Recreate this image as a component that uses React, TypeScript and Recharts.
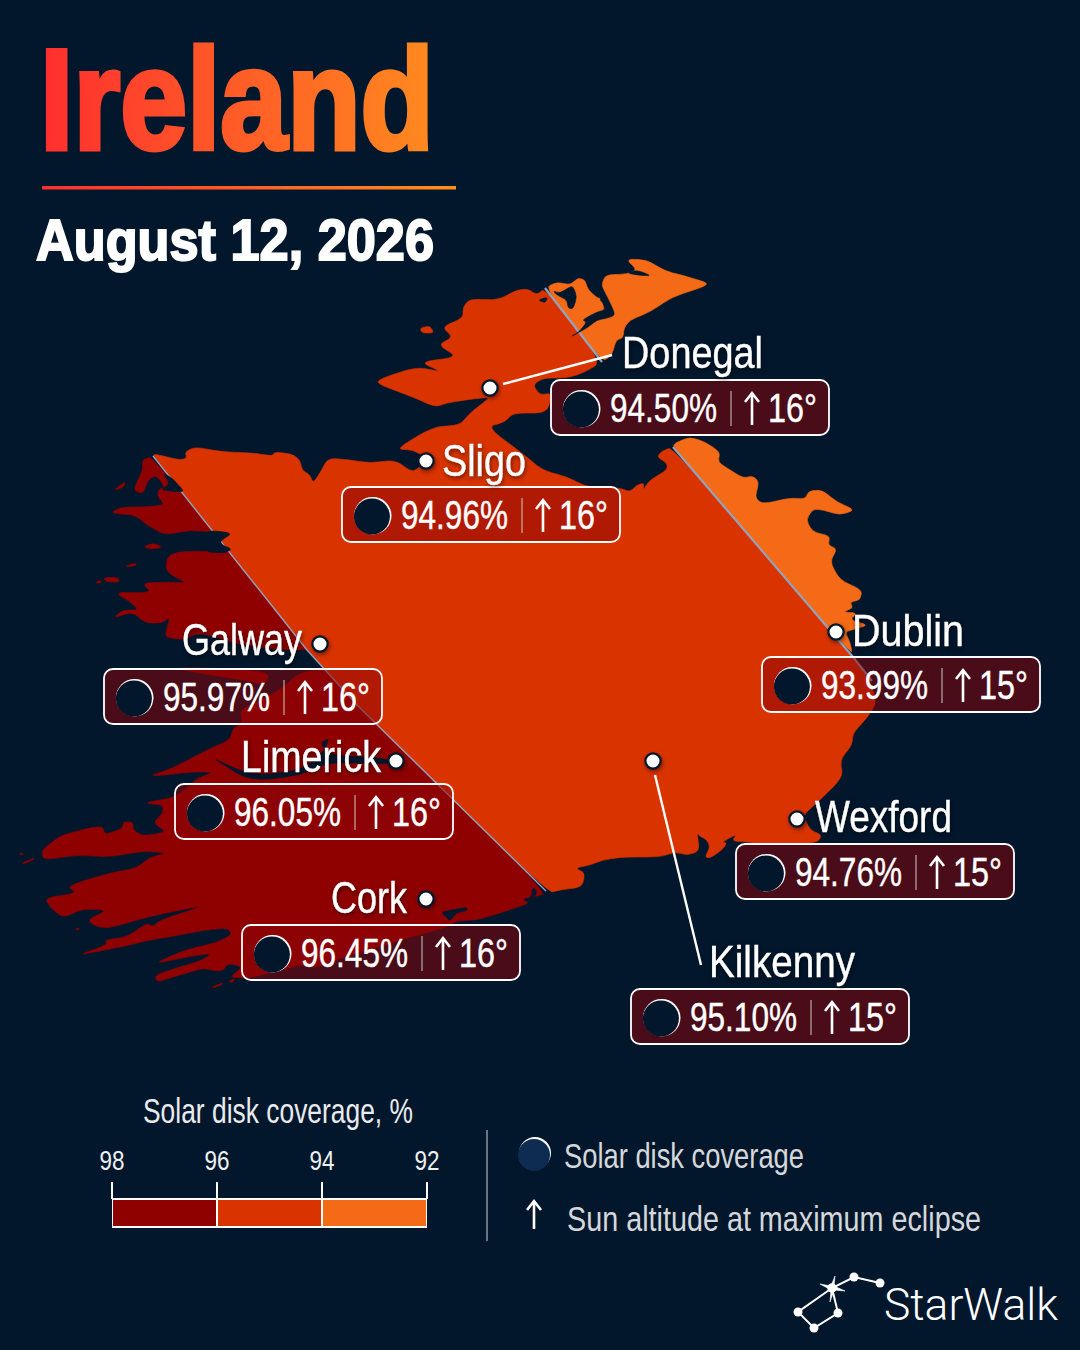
import { ScatterChart, Scatter, XAxis, YAxis, BarChart, Bar } from 'recharts';

const BG = '#02172c';
const DARK_RED = '#8f0000';
const MID_RED = '#d93300';
const ORANGE = '#f46a16';
const NARROW = '"Liberation Sans Narrow", "Liberation Sans", sans-serif';

type Pt = [number, number];

// map outlines in page pixels
const orangeNorth: Pt[] = [[545,288],[557,282],[570,285],[578,278],[585,280],[588,290],[600,300],[603,292],[602,283],[606,275],[627,274],[637,270],[626,259],[647,260],[665,271],[685,276],[708,283],[703,287],[672,297],[650,312],[630,320],[624,328],[623,338],[616,340],[612,355],[602,362]];
const orangeEast: Pt[] = [[673,447],[675,443],[690,437],[705,442],[720,452],[718,462],[727,468],[743,478],[753,476],[759,482],[755,498],[763,504],[790,498],[805,499],[809,491],[822,490],[837,502],[855,510],[840,515],[823,510],[813,509],[806,520],[813,532],[830,536],[828,545],[837,549],[830,562],[840,580],[862,590],[860,600],[850,602],[853,608],[843,612],[857,613],[850,620],[868,625],[855,629],[845,632],[850,642],[853,657]];
const midBand: Pt[] = [[153,456],[155,454],[167,457],[180,460],[187,458],[185,452],[195,447],[223,452],[253,453],[272,456],[275,452],[292,454],[300,460],[302,470],[310,475],[313,483],[320,473],[328,458],[350,460],[370,463],[395,460],[412,472],[420,467],[425,457],[413,450],[396,449],[433,427],[460,425],[470,413],[483,403],[490,397],[465,400],[447,403],[435,407],[413,397],[375,383],[385,377],[417,367],[442,372],[420,362],[458,357],[438,345],[453,337],[442,327],[463,318],[463,307],[470,299],[498,300],[517,290],[528,289],[537,295],[545,288],[602,362],[583,373],[567,378],[543,378],[533,385],[540,395],[552,393],[547,413],[513,413],[505,422],[487,427],[527,457],[542,470],[567,477],[583,485],[597,488],[620,488],[630,492],[637,485],[644,483],[643,490],[650,480],[667,470],[667,463],[657,457],[662,451],[673,447],[853,657],[868,677],[877,702],[867,718],[853,733],[852,745],[840,760],[843,777],[817,803],[803,815],[810,830],[822,835],[817,843],[767,845],[747,842],[732,841],[737,834],[722,842],[727,843],[722,850],[710,858],[705,857],[710,847],[707,840],[698,835],[697,832],[699,847],[697,852],[687,855],[675,852],[660,857],[623,857],[603,860],[590,865],[575,868],[585,873],[582,887],[560,890],[548,893],[357,705],[307,650]];
const darkBand: Pt[] = [[153,456],[307,650],[357,705],[548,893],[533,897],[522,900],[530,903],[503,912],[477,920],[457,921],[447,927],[407,938],[380,947],[343,957],[317,968],[300,965],[293,967],[253,977],[240,978],[230,977],[243,967],[228,963],[222,972],[203,968],[190,972],[170,978],[157,982],[155,975],[180,967],[203,960],[212,953],[187,957],[153,964],[185,950],[215,943],[232,935],[228,928],[205,930],[180,935],[150,940],[130,945],[105,950],[78,955],[107,945],[105,940],[127,937],[147,923],[153,927],[160,920],[210,904],[147,917],[110,928],[97,927],[87,920],[108,910],[82,909],[63,918],[50,907],[45,898],[77,893],[68,887],[80,882],[110,873],[137,868],[150,857],[168,853],[143,851],[110,857],[77,855],[43,860],[42,850],[55,840],[62,835],[102,825],[105,835],[123,828],[123,822],[133,822],[133,830],[143,836],[167,832],[153,823],[163,813],[163,805],[143,803],[177,797],[197,778],[215,772],[190,772],[147,777],[173,768],[207,750],[230,740],[233,728],[243,723],[240,710],[262,700],[280,690],[300,672],[340,668],[323,657],[338,648],[323,647],[305,650],[283,650],[240,645],[200,632],[183,640],[165,637],[167,628],[170,617],[162,623],[145,623],[133,612],[113,618],[123,610],[138,610],[132,603],[114,592],[152,593],[142,583],[170,582],[187,583],[166,572],[167,557],[177,552],[205,551],[228,552],[220,545],[218,542],[225,533],[190,530],[165,535],[147,525],[135,515],[110,513],[122,507],[143,507],[165,505],[158,497],[158,490],[165,487],[156,475],[148,480],[143,494],[133,490],[143,470],[142,460]];
const islands: Pt[][] = [
  [[114,490],[122,484],[125,482],[124,487],[118,489]],
  [[143,547],[153,543],[163,547],[153,549]],
  [[126,566],[135,563],[137,565],[128,567]],
  [[103,578],[117,577],[120,582],[107,582]],
  [[95,583],[100,580],[102,583]],
  [[19,854],[23,853],[23,855]],
  [[22,863],[34,858],[33,860],[23,864]],
  [[212,987],[222,983],[223,984],[214,988]],
  [[228,982],[235,978],[233,982]],
  [[75,929],[80,928],[78,930]],
  [[173,668],[210,668],[270,672],[265,685],[245,680],[210,675]],
];
const arranmore: Pt[] = [[420,328],[430,326],[434,333],[422,333]];
const water: Pt[][] = [
  [[553,291],[560,293],[568,288],[573,286],[577,297],[573,309],[568,308],[567,300],[557,295]],
  [[600,283],[605,293],[612,307],[615,315],[608,318],[597,320],[587,328],[570,337],[578,333],[587,322],[582,320],[597,312],[605,310],[603,303],[600,300]],
  [[627,273],[637,270],[652,276],[637,275]],
  [[538,300],[548,297],[545,303]],
  [[205,530],[233,533],[220,541],[222,545],[232,549],[225,553],[205,552]],
  [[163,473],[172,478],[183,490],[182,492],[160,490],[170,484]],
  [[213,758],[223,763],[243,772],[263,775],[300,770],[320,757],[330,738],[320,743],[330,755],[363,757],[380,758],[395,762],[380,764],[330,762],[300,775],[263,780],[243,777]],
  [[441,912],[453,910],[466,907],[468,910],[456,913],[450,921],[447,918]],
  [[522,900],[532,897],[532,888],[537,890],[535,897]],
];
const borderLines: Pt[][] = [
  [[545,288],[602,362]],
  [[673,447],[853,657],[872,681]],
  [[153,456],[307,650],[357,705],[546,891]],
];

// city call-outs
const cities = ['Donegal', 'Sligo', 'Galway', 'Limerick', 'Cork', 'Dublin', 'Wexford', 'Kilkenny'];
const coverage = [94.5, 94.96, 95.97, 96.05, 96.45, 93.99, 94.76, 95.1];
const altitude = [16, 16, 16, 16, 16, 15, 15, 15];
const dotX = [490, 426, 320, 396, 426, 836, 797, 653];
const dotY = [388, 461, 644, 761, 899, 632, 819, 761];
const boxLeft = [551, 342, 104, 175, 242, 762, 736, 631];
const boxTop = [380, 487, 669, 784, 925, 657, 844, 989];
const nameLeft = [622, 442, 182, 241, 331, 852, 815, 709];
const nameBase = [368, 476, 655, 772, 913, 646, 832, 977];
const nameWidth = [141, 84, 120, 140, 76, 112, 137, 146];
const leaders: Pt[][] = [
  [[503,384],[612,355]],
  [[655,775],[701,965]],
];

const cityRows = cities.map((name, i) => ({
  name, x: dotX[i], y: dotY[i], coverage: coverage[i], altitude: altitude[i],
  boxLeft: boxLeft[i], boxTop: boxTop[i], nameLeft: nameLeft[i], nameBase: nameBase[i], nameWidth: nameWidth[i],
}));

// legend: stacked from the scale's 92 floor up to 98
const scaleTicks = [98, 96, 94, 92];
const scaleRow = [{ band: 'coverage', floor: 92, high: 2, middle: 2, low: 2 }];

// logo
const logoLine: Pt[] = [[880,1283],[854,1277],[832,1288],[798,1312],[814,1328],[838,1313],[832,1288]];
const logoStar: Pt[] = [[835,1276],[834,1286],[845,1291],[834,1290],[830,1302],[831,1290],[820,1284],[831,1286]];

const rows = (pts: Pt[]) => pts.map(([x, y]) => ({ x, y }));
const noDot = () => <g />;

// rounds the traced corners a little so the coast does not look cut with scissors
function coastPath(points: { x: number; y: number }[], c = 0.38) {
  const n = points.length;
  let d = '';
  points.forEach((v, i) => {
    const p = points[(i + n - 1) % n];
    const q = points[(i + 1) % n];
    const ax = v.x + (p.x - v.x) * c;
    const ay = v.y + (p.y - v.y) * c;
    const bx = v.x + (q.x - v.x) * c;
    const by = v.y + (q.y - v.y) * c;
    d += `${i === 0 ? 'M' : 'L'}${ax} ${ay}Q${v.x} ${v.y} ${bx} ${by}`;
  });
  return d + 'Z';
}

function area(pts: Pt[], color: string, key: string, round = 0.38) {
  return (
    <Scatter
      key={key}
      data={rows(pts)}
      isAnimationActive={false}
      shape={noDot}
      line={(p: any) => <path d={coastPath(p.points, round)} fill={color} stroke={color} strokeWidth={0.6} />}
    />
  );
}

function stroke(pts: Pt[], color: string, width: number, key: string) {
  return (
    <Scatter
      key={key}
      data={rows(pts)}
      isAnimationActive={false}
      shape={noDot}
      line={{ stroke: color, strokeWidth: width }}
    />
  );
}

function Arrow({ x, top, bottom }: { x: number; top: number; bottom: number }) {
  return (
    <path
      d={`M${x} ${bottom}V${top}M${x - 7} ${top + 9}L${x} ${top}L${x + 7} ${top + 9}`}
      fill='none'
      stroke='#fff'
      strokeWidth={2.6}
    />
  );
}

function CityBox(props: any) {
  const { payload: c } = props;
  const left = c.boxLeft;
  const top = c.boxTop;
  return (
    <g>
      <rect x={left} y={top} width={278} height={55} rx={9} fill='rgba(139,3,7,0.53)' stroke='#fff' strokeWidth={1.8} />
      <circle cx={left + 30.7} cy={top + 28.7} r={18.8} fill='#fff' />
      <circle cx={left + 29.9} cy={top + 29.5} r={18} fill={BG} />
      <text x={left + 59} y={top + 42} fill='#fff' stroke='#fff' strokeWidth={0.4} fontFamily={NARROW} fontSize={40} textLength={107} lengthAdjust='spacingAndGlyphs'>
        {`${c.coverage.toFixed(2)}%`}
      </text>
      <line x1={left + 180} x2={left + 180} y1={top + 11} y2={top + 46} stroke='#ccb' strokeWidth={1} />
      <Arrow x={left + 201} top={top + 13} bottom={top + 45} />
      <text x={left + 217} y={top + 42} fill='#fff' stroke='#fff' strokeWidth={0.4} fontFamily={NARROW} fontSize={40} textLength={49} lengthAdjust='spacingAndGlyphs'>
        {`${c.altitude}°`}
      </text>
    </g>
  );
}

function CityName(props: any) {
  const { payload: c } = props;
  return (
    <text
      x={c.nameLeft}
      y={c.nameBase}
      fill='#fff'
      stroke='#fff'
      strokeWidth={0.4}
      fontFamily={NARROW}
      fontSize={45}
      textLength={c.nameWidth}
      lengthAdjust='spacingAndGlyphs'
      style={{ filter: 'drop-shadow(1px 2px 2px rgba(0,0,0,0.5))' }}
    >
      {c.name}
    </text>
  );
}

function CityDot(props: any) {
  return (
    <circle
      cx={props.cx}
      cy={props.cy}
      r={7.6}
      fill='#fff'
      stroke={BG}
      strokeWidth={2.2}
      style={{ filter: 'drop-shadow(1px 2px 2px rgba(0,0,0,0.45))' }}
    />
  );
}

function LogoDot(props: any) {
  return <circle cx={props.cx} cy={props.cy} r={4.5} fill='#fff' />;
}

function ScaleTick(props: any) {
  return (
    <text x={props.x - 12.5} y={30} fill='#eef0f2' fontFamily={NARROW} fontSize={27} textLength={25} lengthAdjust='spacingAndGlyphs'>
      {props.payload.value}
    </text>
  );
}

export default function App() {
  return (
    <div style={{ position: 'absolute', left: 0, top: 0, width: 1080, height: 1350, background: BG, overflow: 'hidden' }}>
      <ScatterChart width={1080} height={1350} margin={{ top: 0, right: 0, bottom: 0, left: 0 }}>
        <defs>
          <linearGradient id='titleFill' gradientUnits='userSpaceOnUse' x1={42} x2={456} y1={0} y2={0}>
            <stop offset='0%' stopColor='#ff2f2f' />
            <stop offset='100%' stopColor='#ff8f1e' />
          </linearGradient>
        </defs>
        <XAxis type='number' dataKey='x' domain={[0, 1080]} hide />
        <YAxis type='number' dataKey='y' domain={[0, 1350]} reversed hide />

        {area(darkBand, DARK_RED, 'dark')}
        {area(midBand, MID_RED, 'mid')}
        {area(orangeNorth, ORANGE, 'orangeN')}
        {area(orangeEast, ORANGE, 'orangeE')}
        {area(arranmore, MID_RED, 'arranmore')}
        {islands.map((s, i) => area(s, DARK_RED, `island${i}`))}
        {borderLines.map((s, i) => stroke(s, '#93a3bd', i === 2 ? 1.4 : 2.2, `border${i}`))}
        {water.map((s, i) => area(s, BG, `water${i}`))}
        {leaders.map((s, i) => stroke(s, '#fff', 2.4, `leader${i}`))}

        <Scatter data={cityRows} isAnimationActive={false} shape={CityBox} />
        <Scatter data={cityRows} isAnimationActive={false} shape={CityDot} />
        <Scatter data={cityRows} isAnimationActive={false} shape={CityName} />

        <Scatter data={rows(logoLine)} isAnimationActive={false} shape={LogoDot} line={{ stroke: '#fff', strokeWidth: 2 }} />
        {area(logoStar, '#fff', 'star', 0)}

        <text x={40} y={149} fill='url(#titleFill)' stroke='url(#titleFill)' strokeWidth={5} strokeLinejoin='miter' fontFamily={NARROW} fontWeight={700} fontSize={143} textLength={394} lengthAdjust='spacingAndGlyphs'>
          Ireland
        </text>
        <rect x={42} y={186} width={414} height={3.5} fill='url(#titleFill)' />
        <text x={36} y={260} fill='#fff' stroke='#fff' strokeWidth={2} fontFamily={NARROW} fontWeight={700} fontSize={57} textLength={398} lengthAdjust='spacingAndGlyphs'>
          August 12, 2026
        </text>

        <text x={143} y={1123} fill='#e9ebee' fontFamily={NARROW} fontSize={35} textLength={270} lengthAdjust='spacingAndGlyphs'>
          Solar disk coverage, %
        </text>
        <line x1={487} x2={487} y1={1130} y2={1241} stroke='#cfd3d8' strokeWidth={1} />
        <circle cx={535} cy={1153} r={16} fill='#fff' />
        <circle cx={534} cy={1155} r={16} fill='#0e2c52' />
        <text x={564} y={1168} fill='#d5d7da' fontFamily={NARROW} fontSize={35} textLength={240} lengthAdjust='spacingAndGlyphs'>
          Solar disk coverage
        </text>
        <Arrow x={534} top={1201} bottom={1229} />
        <text x={567} y={1231} fill='#d5d7da' fontFamily={NARROW} fontSize={35} textLength={414} lengthAdjust='spacingAndGlyphs'>
          Sun altitude at maximum eclipse
        </text>
        <text x={884} y={1320} fill='#fff' fontFamily='Roboto, sans-serif' fontWeight={300} fontSize={45} textLength={174} lengthAdjust='spacingAndGlyphs'>
          StarWalk
        </text>
      </ScatterChart>

      <div style={{ position: 'absolute', left: 82, top: 1140 }}>
        <BarChart width={375} height={90} data={scaleRow} layout='vertical' barCategoryGap={0} margin={{ top: 58, right: 30, bottom: 3, left: 30 }}>
          <XAxis
            type='number'
            orientation='top'
            domain={[92, 98]}
            reversed
            allowDataOverflow
            ticks={scaleTicks}
            height={1}
            axisLine={false}
            tickSize={17}
            tickLine={{ stroke: '#fff', strokeWidth: 2 }}
            tick={ScaleTick}
          />
          <YAxis type='category' dataKey='band' hide />
          <Bar dataKey='floor' stackId='scale' fill='none' isAnimationActive={false} />
          <Bar dataKey='low' stackId='scale' fill={ORANGE} stroke='#fff' strokeWidth={2} isAnimationActive={false} />
          <Bar dataKey='middle' stackId='scale' fill={MID_RED} stroke='#fff' strokeWidth={2} isAnimationActive={false} />
          <Bar dataKey='high' stackId='scale' fill={DARK_RED} stroke='#fff' strokeWidth={2} isAnimationActive={false} />
        </BarChart>
      </div>
    </div>
  );
}
